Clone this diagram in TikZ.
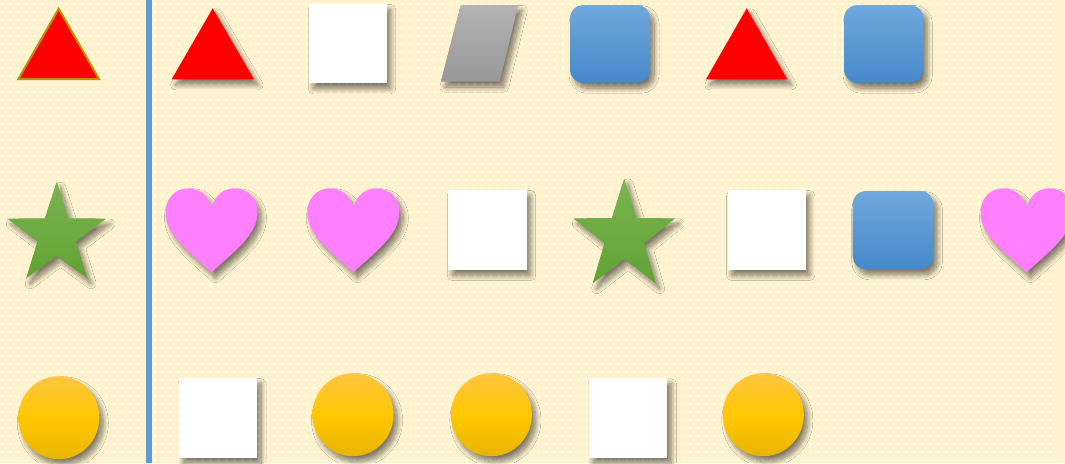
\documentclass[tikz,border=0pt]{standalone}
\usetikzlibrary{shadows.blur,patterns.meta}
\definecolor{bgyellow}{HTML}{FFF2CC}
\definecolor{lineblue}{HTML}{5B9BD5}
\definecolor{trired}{HTML}{FF0000}
\definecolor{tristroke}{HTML}{BF9000}
\definecolor{heartpink}{HTML}{FF80FF}
\definecolor{bluetop}{HTML}{70A8DD}
\definecolor{bluebot}{HTML}{4588CA}
\definecolor{greentop}{HTML}{7AB552}
\definecolor{greenbot}{HTML}{60A232}
\definecolor{graytop}{HTML}{B3B3B3}
\definecolor{graybot}{HTML}{979797}
\definecolor{goldtop}{HTML}{FFC540}
\definecolor{goldmid}{HTML}{FFC800}
\definecolor{goldbot}{HTML}{E8B400}
\tikzdeclarepattern{
  name=bgdots,
  type=uncolored,
  bottom left={(0pt,0pt)},
  top right={(8pt,8pt)},
  tile size={(8pt,8pt)},
  code={\pgfpathrectangle{\pgfpoint{3pt}{3pt}}{\pgfpoint{2.5pt}{2.5pt}}\pgfusepath{fill}}
}
\tikzset{
  shad/.style={blur shadow={shadow xshift=4pt, shadow yshift=-5.5pt, shadow blur radius=5pt, shadow blur steps=12, shadow opacity=50}},
  whitesq/.style={shad, fill=white},
  bluesq/.style={shad, rounded corners=13pt, top color=bluetop, bottom color=bluebot},
  redtri/.style={shad, fill=trired},
  heartsty/.style={shad, fill=heartpink},
  starsty/.style={shad, top color=greentop, bottom color=greenbot},
  goldsty/.style={shad, top color=goldtop, bottom color=goldbot, middle color=goldmid},
  graysty/.style={shad, top color=graytop, bottom color=graybot}
}
\newcommand\myheart[2]{\path[heartsty] (#1,#2+19) .. controls (#1-4,#2+6) and (#1-13,#2) .. (#1-23,#2) .. controls (#1-37,#2) and (#1-46,#2+11) .. (#1-46,#2+24) .. controls (#1-46,#2+46) and (#1-24,#2+62) .. (#1,#2+84) .. controls (#1+24,#2+62) and (#1+46,#2+46) .. (#1+46,#2+24) .. controls (#1+46,#2+11) and (#1+37,#2) .. (#1+23,#2) .. controls (#1+13,#2) and (#1+4,#2+6) .. (#1,#2+19) -- cycle;}
\newcommand\mystar[4]{\path[starsty] ({#1},{#2-#4}) \foreach \a/\f in {126/0.39,162/1,198/0.39,234/1,270/0.39,306/1,342/0.39,18/1,54/0.39}{ -- ({#1+\f*#3*cos(\a)},{#2-\f*#4*sin(\a)}) } -- cycle;}
\begin{document}
\begin{tikzpicture}[x=1pt,y=-1pt]
\useasboundingbox (0,0) rectangle (1065,463);
\fill[bgyellow] (0,0) rectangle (1065,463);
\fill[pattern=bgdots, pattern color=white] (0,0) rectangle (1065,463);
\draw[lineblue, line width=5.5pt] (149,0) -- (149,463);
% row 1
\filldraw[fill=trired, draw=tristroke, line width=2pt] (58.7,8.7) -- (99,79) -- (18.4,79) -- cycle;
\path[redtri] (212.7,8.3) -- (254,79.3) -- (171.7,79.3) -- cycle;
\path[whitesq] (309.3,4) rectangle (386.7,83.3);
\path[graysty] (460.7,5) -- (518.3,5) -- (499.7,81.7) -- (440.9,81.7) -- cycle;
\path[bluesq] (570,5) rectangle (650,82.7);
\path[redtri] (746.7,8.3) -- (787.3,79.3) -- (706,79.3) -- cycle;
\path[bluesq] (844,5) rectangle (923.3,82.7);
% row 2
\mystar{56.7}{235.1}{51.9}{53.4}
\myheart{211.5}{188.3}
\myheart{353.3}{188.3}
\path[whitesq] (448.3,190) rectangle (526.7,270);
\mystar{624.2}{236.3}{53.5}{58}
\path[whitesq] (727.7,190) rectangle (805.8,270);
\path[bluesq] (852.7,191) rectangle (933.4,269.3);
\myheart{1026.5}{188.3}
% row 3
\path[goldsty] (58.8,417.7) ellipse [x radius=40.5, y radius=41.5];
\path[whitesq] (179,378) rectangle (257,458);
\path[goldsty] (353,414.7) ellipse [x radius=40.5, y radius=41.5];
\path[goldsty] (491.4,414.7) ellipse [x radius=40.5, y radius=41.5];
\path[whitesq] (589,378.3) rectangle (667.4,457.7);
\path[goldsty] (763.3,414.7) ellipse [x radius=40.5, y radius=41.5];
\end{tikzpicture}
\end{document}
